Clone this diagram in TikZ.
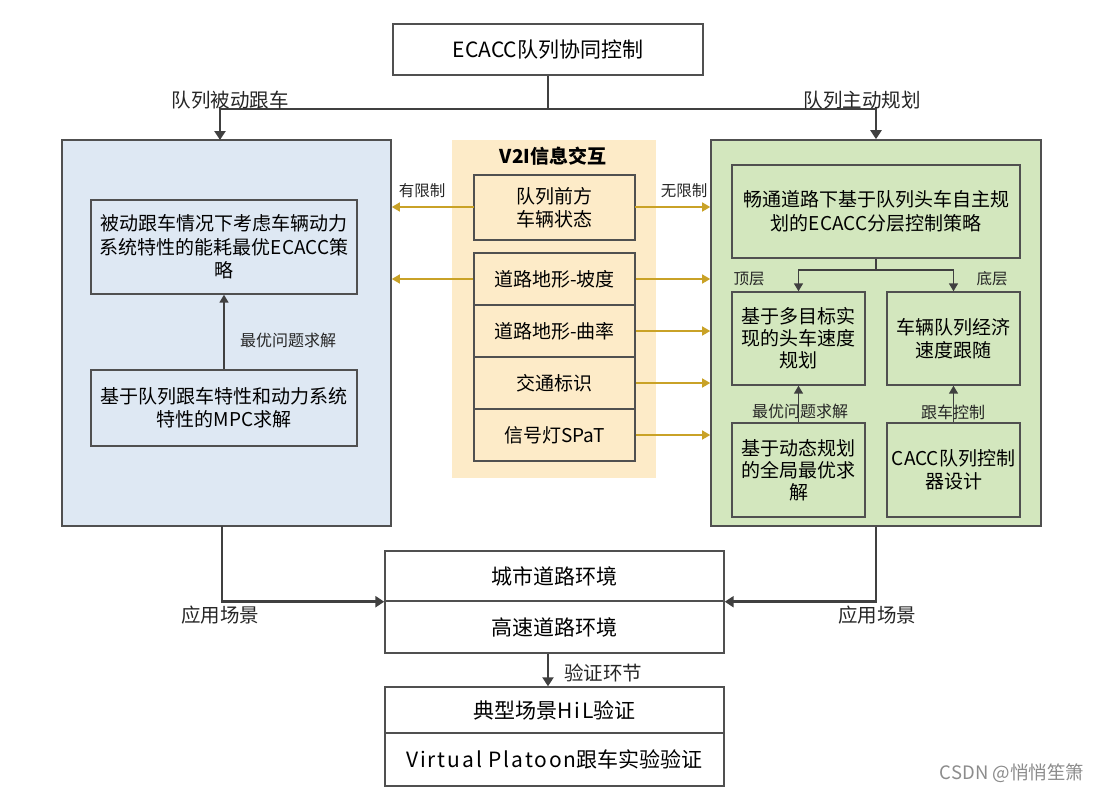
\documentclass[tikz,border=0pt]{standalone}
\usepackage{fontspec}
\setmainfont{Noto Sans CJK SC}
\newfontfamily\spaced{Noto Sans CJK SC}[LetterSpace=9]
\usetikzlibrary{arrows.meta}
\definecolor{lblue}{HTML}{DEE8F3}
\definecolor{lgreen}{HTML}{D3E7BE}
\definecolor{lorange}{HTML}{FDEBC8}
\definecolor{gold}{HTML}{C9A227}
\definecolor{dgray}{HTML}{404040}
\definecolor{bgray}{HTML}{505050}
\tikzset{
  box/.style={draw=bgray, line width=1.4pt, inner sep=0pt, align=center, font=\fontsize{19}{23.5}\selectfont},
  botbox/.style={box, font=\fontsize{21}{24}\selectfont},
  panel/.style={draw=bgray, line width=1.6pt, inner sep=0pt},
  lbl/.style={inner sep=0pt, font=\fontsize{15.5}{18}\selectfont, text=black!85},
  biglbl/.style={inner sep=0pt, font=\fontsize{19.5}{22}\selectfont, text=black!85},
  thickarrow/.style={draw=dgray, line width=2.8pt, -{Triangle[length=9pt,width=11pt]}},
  thickline/.style={draw=dgray, line width=2.8pt},
  darrow/.style={draw=dgray, line width=1.6pt, -{Triangle[length=8pt,width=9pt]}},
  garrow/.style={draw=gold, line width=1.4pt, -{Triangle[length=8pt,width=9pt]}}
}
\begin{document}
\begin{tikzpicture}[x=1pt,y=-1pt]
\useasboundingbox[fill=white] (0,0) rectangle (1102,793);
% top
\node[box, minimum width=310, minimum height=51, font=\fontsize{21}{24}\selectfont] (top) at (548,49.5) {ECACC队列协同控制};
% panels
\node[panel, fill=lblue, minimum width=329, minimum height=386] (lp) at (226.5,333) {};
\node[panel, fill=lgreen, minimum width=330, minimum height=386] (rp) at (876,333) {};
\node[fill=lorange, minimum width=204, minimum height=338, inner sep=0pt] (mp) at (554,309) {};
% connectors from top
\coordinate (split) at (548,109);
\draw[thickline] (top.south) -- (split);
\coordinate (lpin) at (220,140);
\draw[thickarrow] (split) -| (lpin);
\draw[thickarrow] (split) -| (rp.north);
\node[biglbl] (l1) at (230,100) {队列被动跟车};
\node[biglbl] (l2) at (862,100) {队列主动规划};
% left inner
\node[box, minimum width=266, minimum height=94] (lb1) at (224,247) {被动跟车情况下考虑车辆动力\\系统特性的能耗最优ECACC策\\略};
\node[box, minimum width=266, minimum height=76] (lb2) at (224,408) {基于队列跟车特性和动力系统\\特性的MPC求解};
\draw[darrow] (lb2.north) -- (lb1.south);
\node[lbl, font=\fontsize{16}{18}\selectfont] (l3) at (288,340) {最优问题求解};
% middle
\node[inner sep=0pt, font=\fontsize{19}{21}\selectfont\bfseries] (mt) at (553,156) {V2I信息交互};
\node[box, minimum width=161, minimum height=65] (m1) at (554.5,207.5) {队列前方\\车辆状态};
\node[box, minimum width=161, minimum height=52] (m2) at (554.5,279) {道路地形-坡度};
\node[box, minimum width=161, minimum height=52] (m3) at (554.5,331) {道路地形-曲率};
\node[box, minimum width=161, minimum height=52] (m4) at (554.5,383) {交通标识};
\node[box, minimum width=161, minimum height=52] (m5) at (554.5,435) {信号灯SPaT};
\coordinate (m1l) at (474,207);
\coordinate (m1r) at (635,207);
\draw[garrow] (m1l) -- (m1l -| lp.east);
\draw[garrow] (m2.west) -- (m2.west -| lp.east);
\draw[garrow] (m1r) -- (m1r -| rp.west);
\draw[garrow] (m2.east) -- (m2.east -| rp.west);
\draw[garrow] (m3.east) -- (m3.east -| rp.west);
\draw[garrow] (m4.east) -- (m4.east -| rp.west);
\draw[garrow] (m5.east) -- (m5.east -| rp.west);
\node[lbl] (l4) at (422,191) {有限制};
\node[lbl] (l5) at (684,191) {无限制};
% right inner
\node[box, minimum width=288, minimum height=93] (rt) at (876,211.5) {畅通道路下基于队列头车自主规\\划的ECACC分层控制策略};
\node[box, minimum width=133, minimum height=93, font=\fontsize{19}{22}\selectfont] (r1) at (798.5,338.5) {基于多目标实\\现的头车速度\\规划};
\node[box, minimum width=133, minimum height=93] (r2) at (953.5,338.5) {车辆队列经济\\速度跟随};
\node[box, minimum width=133, minimum height=94, font=\fontsize{19}{22}\selectfont] (r3) at (798.5,470) {基于动态规划\\的全局最优求\\解};
\node[box, minimum width=133, minimum height=94] (r4) at (953.5,470) {CACC队列控制\\器设计};
\coordinate (rsplit) at (876,270);
\draw[draw=dgray, line width=1.6pt] (rt.south) -- (rsplit);
\draw[darrow] (rsplit) -| (r1.north);
\draw[darrow] (rsplit) -| (r2.north);
\draw[darrow] (r3.north) -- (r1.south);
\draw[darrow] (r4.north) -- (r2.south);
\node[lbl] (l6) at (749,279) {顶层};
\node[lbl] (l7) at (992,279) {底层};
\node[lbl, font=\fontsize{16}{18}\selectfont] (l8) at (800,411) {最优问题求解};
\node[lbl, font=\fontsize{16}{18}\selectfont] (l9) at (953,412) {跟车控制};
% bottom
\node[botbox, minimum width=339, minimum height=50] (b1) at (554.5,576) {城市道路环境};
\node[botbox, minimum width=339, minimum height=52] (b2) at (554.5,627) {高速道路环境};
\node[botbox, minimum width=339, minimum height=46] (b3) at (554.5,710) {典型场景{\spaced HiL}验证};
\node[botbox, minimum width=339, minimum height=53] (b4) at (554.5,759.5) {{\spaced Virtual Platoon}跟车实验验证};
\coordinate (lpout) at (222,526);
\draw[thickarrow] (lpout) |- (b1.south west);
\draw[thickarrow] (rp.south) |- (b1.south east);
\draw[thickarrow] (b2.south -| 548,0) -- (b3.north -| 548,0);
\node[biglbl] (l10) at (220,615) {应用场景};
\node[biglbl] (l11) at (877,615) {应用场景};
\node[biglbl] (l12) at (603,673) {验证环节};
\node[inner sep=0pt, font=\fontsize{18.5}{20}\selectfont, text=black!45] (wm) at (1012,773) {CSDN @悄悄笙箫};
\end{tikzpicture}
\end{document}
